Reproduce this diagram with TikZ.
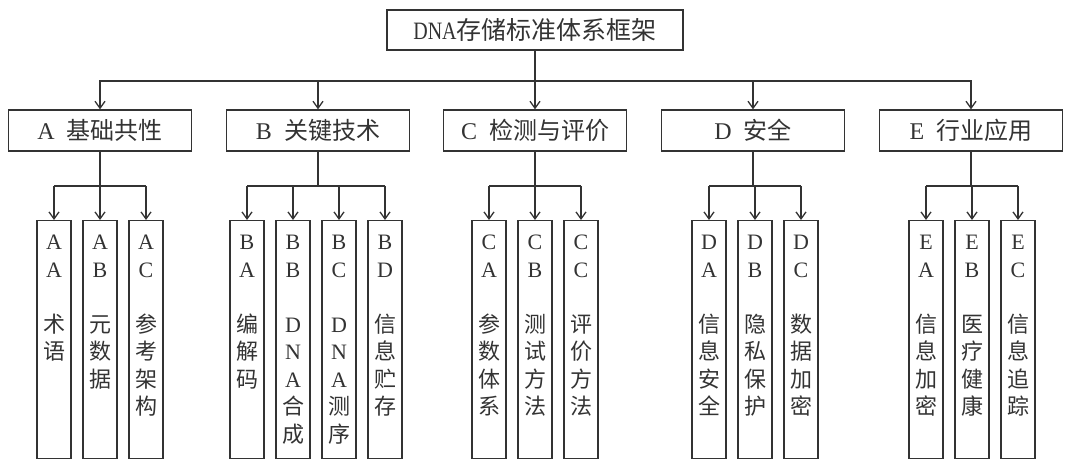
\documentclass[tikz,border=0pt]{standalone}
\usepackage{fontspec}
\setmainfont{Liberation Serif}
\newfontfamily\cjk{Noto Sans CJK SC}
\usetikzlibrary{arrows.meta}
\definecolor{ink}{HTML}{333333}
\newcommand\myleaf[4]{%
  \node[leafbox] (#1) at (#2,220) {};
  \node[leaftext] (#1t) at (#2,235) {#3\\\mbox{}\\#4};
  \draw[arr] (#1.north |- 0,186) -- (#1.north);
}
\begin{document}
\begin{tikzpicture}[x=1pt,y=-1pt,
  box/.style={draw=ink,line width=1.3pt,inner sep=0pt,text=ink},
  catbox/.style={box,minimum width=183pt,minimum height=41pt,font=\fontsize{24}{28}\selectfont},
  leafbox/.style={box,minimum width=34pt,minimum height=238pt,anchor=north},
  leaftext/.style={anchor=north,inner sep=0pt,align=center,text=ink,font=\fontsize{22}{27.5}\selectfont},
  arr/.style={draw=ink,line width=1.3pt,-{Straight Barb[length=7pt,width=10pt,line width=1.3pt]}},
  ln/.style={draw=ink,line width=1.3pt}]
\useasboundingbox (0,0) rectangle (1068,465);
\node[box,minimum width=296pt,minimum height=40pt,font=\fontsize{25}{30}\selectfont] (top) at (535,30) {\scalebox{0.8}[1]{DNA}{\cjk 存储标准体系框架}};
\coordinate (bus) at (535,81);
\node[catbox] (A) at (100,130.5) {A\hspace{12pt}{\cjk 基础共性}};
\node[catbox] (B) at (318,130.5) {B\hspace{12pt}{\cjk 关键技术}};
\node[catbox] (C) at (535,130.5) {C\hspace{12pt}{\cjk 检测与评价}};
\node[catbox] (D) at (753,130.5) {D\hspace{12pt}{\cjk 安全}};
\node[catbox] (E) at (971,130.5) {E\hspace{12pt}{\cjk 行业应用}};
\draw[arr] (top.south) -- (bus) -| (A.north);
\draw[arr] (top.south) -- (bus) -| (B.north);
\draw[arr] (top.south) -- (C.north);
\draw[arr] (top.south) -- (bus) -| (D.north);
\draw[arr] (top.south) -- (bus) -| (E.north);
% branch lines
\coordinate (Ab) at (100,186);
\coordinate (Bb) at (318,186);
\coordinate (Cb) at (535,186);
\coordinate (Db) at (753,186);
\coordinate (Eb) at (971,186);
\myleaf{AA}{54}{A\\A}{{\cjk 术}\\{\cjk 语}}
\myleaf{AB}{100}{A\\B}{{\cjk 元}\\{\cjk 数}\\{\cjk 据}}
\myleaf{AC}{146}{A\\C}{{\cjk 参}\\{\cjk 考}\\{\cjk 架}\\{\cjk 构}}
\myleaf{BA}{247}{B\\A}{{\cjk 编}\\{\cjk 解}\\{\cjk 码}}
\myleaf{BB}{293}{B\\B}{D\\N\\A\\{\cjk 合}\\{\cjk 成}}
\myleaf{BC}{339}{B\\C}{D\\N\\A\\{\cjk 测}\\{\cjk 序}}
\myleaf{BD}{385}{B\\D}{{\cjk 信}\\{\cjk 息}\\{\cjk 贮}\\{\cjk 存}}
\myleaf{CA}{489}{C\\A}{{\cjk 参}\\{\cjk 数}\\{\cjk 体}\\{\cjk 系}}
\myleaf{CB}{535}{C\\B}{{\cjk 测}\\{\cjk 试}\\{\cjk 方}\\{\cjk 法}}
\myleaf{CC}{581}{C\\C}{{\cjk 评}\\{\cjk 价}\\{\cjk 方}\\{\cjk 法}}
\myleaf{DA}{709}{D\\A}{{\cjk 信}\\{\cjk 息}\\{\cjk 安}\\{\cjk 全}}
\myleaf{DB}{755}{D\\B}{{\cjk 隐}\\{\cjk 私}\\{\cjk 保}\\{\cjk 护}}
\myleaf{DC}{801}{D\\C}{{\cjk 数}\\{\cjk 据}\\{\cjk 加}\\{\cjk 密}}
\myleaf{EA}{926}{E\\A}{{\cjk 信}\\{\cjk 息}\\{\cjk 加}\\{\cjk 密}}
\myleaf{EB}{972}{E\\B}{{\cjk 医}\\{\cjk 疗}\\{\cjk 健}\\{\cjk 康}}
\myleaf{EC}{1018}{E\\C}{{\cjk 信}\\{\cjk 息}\\{\cjk 追}\\{\cjk 踪}}
% stems and horizontal branches
\draw[ln] (A.south) -- (Ab);
\draw[ln] (AA.north |- Ab) -- (AC.north |- Ab);
\draw[ln] (B.south) -- (Bb);
\draw[ln] (BA.north |- Bb) -- (BD.north |- Bb);
\draw[ln] (C.south) -- (Cb);
\draw[ln] (CA.north |- Cb) -- (CC.north |- Cb);
\draw[ln] (D.south) -- (Db);
\draw[ln] (DA.north |- Db) -- (DC.north |- Db);
\draw[ln] (E.south) -- (Eb);
\draw[ln] (EA.north |- Eb) -- (EC.north |- Eb);
\end{tikzpicture}
\end{document}
